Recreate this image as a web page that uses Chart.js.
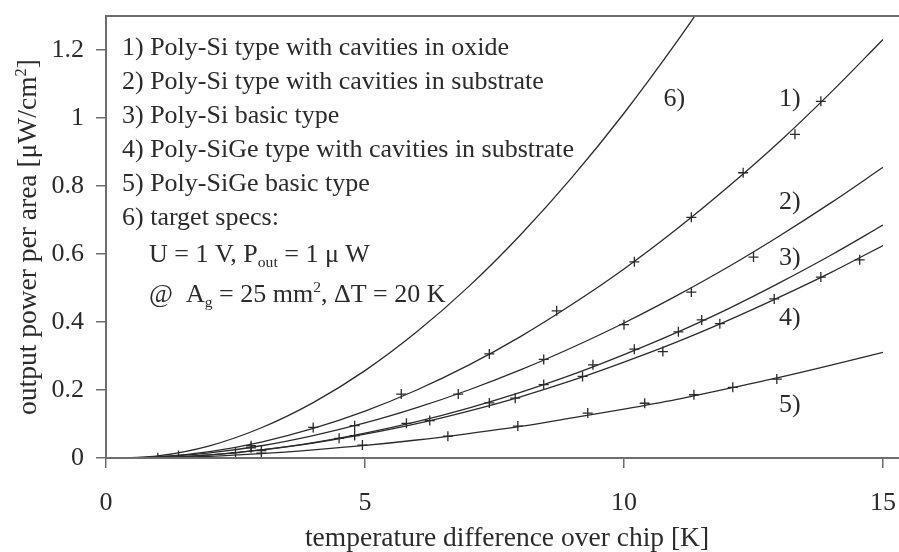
<!DOCTYPE html>
<html>
<head>
<meta charset="utf-8">
<script src="https://cdn.jsdelivr.net/npm/chart.js@4.4.0/dist/chart.umd.min.js"></script>
<style>
  html, body { margin: 0; padding: 0; background: #fff; }
  #wrap { width: 899px; height: 552px; position: relative; }
</style>
</head>
<body>
<div id="wrap"><canvas id="powerChart"></canvas></div>
<script>
const FONT = '"Liberation Serif", "DejaVu Serif", serif';
const INK = '#2b2b2b';
const AXIS = '#6e6e6e';

// fitted curves, sampled every kelvin
const curveX          = [0.4, 1, 2, 3, 4, 5, 6, 7, 8, 9, 10, 11, 12, 13, 14, 15];
const polySiOxide     = [0, 0.003, 0.019, 0.047, 0.087, 0.138, 0.200, 0.273, 0.357, 0.452, 0.556, 0.671, 0.796, 0.930, 1.076, 1.231];
const polySiSubstrate = [0, 0.003, 0.015, 0.036, 0.066, 0.103, 0.148, 0.200, 0.259, 0.325, 0.397, 0.476, 0.561, 0.653, 0.751, 0.855];
const polySiBasic     = [0, 0.001, 0.009, 0.024, 0.045, 0.073, 0.107, 0.147, 0.193, 0.245, 0.304, 0.368, 0.438, 0.515, 0.597, 0.685];
const polySiGeSubstr  = [0, 0.001, 0.009, 0.024, 0.044, 0.070, 0.101, 0.138, 0.180, 0.228, 0.282, 0.340, 0.404, 0.473, 0.546, 0.625];
const polySiGeBasic   = [0, 0.001, 0.005, 0.013, 0.024, 0.037, 0.053, 0.072, 0.093, 0.118, 0.144, 0.172, 0.204, 0.237, 0.273, 0.311];
const targetX         = [0.4, 1, 2, 3, 4, 5, 6, 7, 8, 9, 10, 11, 12];
const targetSpec      = [0, 0.006, 0.036, 0.089, 0.163, 0.257, 0.371, 0.504, 0.656, 0.826, 1.014, 1.220, 1.440];

// measured points (crosses)
const meas1X = [1.4, 2.8, 4.0, 5.7, 7.4, 8.7, 10.2, 11.3, 12.3, 13.3, 13.8];
const meas1Y = [0.007, 0.036, 0.090, 0.188, 0.306, 0.433, 0.577, 0.708, 0.839, 0.952, 1.049];
const meas2X = [2.8, 4.8, 6.8, 8.45, 10.0, 11.3, 12.5];
const meas2Y = [0.030, 0.095, 0.188, 0.290, 0.392, 0.488, 0.591];
const meas3X = [2.5, 4.5, 5.8, 7.4, 8.45, 9.4, 10.2, 11.05, 11.5];
const meas3Y = [0.016, 0.058, 0.102, 0.162, 0.216, 0.274, 0.320, 0.371, 0.406];
const meas4X = [3.0, 4.8, 6.25, 7.9, 9.2, 10.75, 11.85, 12.9, 13.8, 14.55];
const meas4Y = [0.022, 0.066, 0.110, 0.176, 0.240, 0.313, 0.395, 0.468, 0.532, 0.583];
const meas5X = [1.0, 3.0, 4.95, 6.6, 7.95, 9.3, 10.4, 11.35, 12.1, 12.95];
const meas5Y = [0.001, 0.014, 0.038, 0.064, 0.094, 0.132, 0.161, 0.186, 0.208, 0.232];

const xTicks = [0, 5, 10, 15];
const yTicks = [0, 0.2, 0.4, 0.6, 0.8, 1, 1.2];

// curve tags next to the right ends: [text, x, y]
const curveTags = [
  ['6)', 10.97, 1.055], ['1)', 13.2, 1.055], ['2)', 13.2, 0.751],
  ['3)', 13.2, 0.589], ['4)', 13.2, 0.412], ['5)', 13.2, 0.156]
];

const pts = (xs, ys) => xs.map((x, i) => ({ x: x, y: ys[i] }));

function curve(xs, ys) {
  return {
    type: 'line', data: pts(xs, ys), borderColor: INK, borderWidth: 1.3,
    pointRadius: 0, cubicInterpolationMode: 'monotone', fill: false
  };
}
function crosses(xs, ys) {
  return {
    type: 'scatter', data: pts(xs, ys), showLine: false, pointStyle: 'cross',
    pointRadius: 5, borderColor: INK, borderWidth: 1.3, backgroundColor: INK
  };
}

// draws text pieces with sub/superscripts along one baseline
function drawRuns(ctx, x, y, runs, size) {
  runs.forEach(r => {
    let s = size, dy = 0;
    if (r.sub) { s = size * 0.6; dy = 5; }
    if (r.sup) { s = size * 0.6; dy = -10; }
    ctx.font = s + 'px ' + FONT;
    ctx.fillText(r.t, x, y + dy);
    x += ctx.measureText(r.t).width;
  });
}
function runsWidth(ctx, runs, size) {
  let w = 0;
  runs.forEach(r => {
    ctx.font = ((r.sub || r.sup) ? size * 0.6 : size) + 'px ' + FONT;
    w += ctx.measureText(r.t).width;
  });
  return w;
}

const decorations = {
  id: 'decorations',
  afterDraw(chart) {
    const ctx = chart.ctx;
    const a = chart.chartArea;
    const sx = chart.scales.x, sy = chart.scales.y;
    ctx.save();

    // top frame line and bottom axis line run to the edge
    ctx.strokeStyle = AXIS;
    ctx.lineWidth = 2;
    ctx.beginPath();
    ctx.moveTo(a.left, a.top); ctx.lineTo(chart.width, a.top);
    ctx.moveTo(a.left, a.bottom); ctx.lineTo(chart.width, a.bottom);
    ctx.stroke();

    ctx.fillStyle = INK;
    ctx.textAlign = 'center';
    ctx.textBaseline = 'middle';
    ctx.font = '26px ' + FONT;
    curveTags.forEach(t => ctx.fillText(t[0], sx.getPixelForValue(t[1]), sy.getPixelForValue(t[2])));

    // legend block
    ctx.textAlign = 'left';
    ctx.textBaseline = 'alphabetic';
    const lx = a.left + 16, size = 26;
    const lines = [
      '1) Poly-Si type with cavities in oxide',
      '2) Poly-Si type with cavities in substrate',
      '3) Poly-Si basic type',
      '4) Poly-SiGe type with cavities in substrate',
      '5) Poly-SiGe basic type',
      '6) target specs:'
    ];
    const base = [55, 88.5, 122.5, 156.5, 190.5, 225];
    ctx.font = size + 'px ' + FONT;
    lines.forEach((l, i) => ctx.fillText(l, lx, base[i]));
    drawRuns(ctx, lx + 27, 261.5, [
      { t: 'U = 1 V, P' }, { t: 'out', sub: true }, { t: ' = 1 \u03bc W' }
    ], size);
    drawRuns(ctx, lx + 27, 301.5, [
      { t: '@  A' }, { t: 'g', sub: true }, { t: ' = 25 mm' }, { t: '2', sup: true }, { t: ', \u0394T = 20 K' }
    ], size);

    // axis titles
    ctx.font = '27.5px ' + FONT;
    ctx.textAlign = 'center';
    ctx.fillText('temperature difference over chip [K]', 507, 546);
    ctx.save();
    ctx.translate(36, (a.top + a.bottom) / 2);
    ctx.rotate(-Math.PI / 2);
    ctx.textAlign = 'left';
    const title = [{ t: 'output power per area [\u03bcW/cm' }, { t: '2', sup: true }, { t: ']' }];
    const w = runsWidth(ctx, title, 27.5);
    drawRuns(ctx, -w / 2, 0, title, 27.5);
    ctx.restore();

    ctx.restore();
  }
};

const ctx = document.getElementById('powerChart').getContext('2d');
const powerChart = new Chart(ctx, {
  data: {
    datasets: [
      curve(targetX, targetSpec),
      curve(curveX, polySiOxide),
      curve(curveX, polySiSubstrate),
      curve(curveX, polySiBasic),
      curve(curveX, polySiGeSubstr),
      curve(curveX, polySiGeBasic),
      crosses(meas1X, meas1Y),
      crosses(meas2X, meas2Y),
      crosses(meas3X, meas3Y),
      crosses(meas4X, meas4Y),
      crosses(meas5X, meas5Y)
    ]
  },
  options: {
    responsive: true,
    maintainAspectRatio: false,
    animation: false,
    layout: { padding: { top: 16, right: 16, left: 0, bottom: 0 } },
    plugins: { legend: { display: false }, tooltip: { enabled: false } },
    scales: {
      x: {
        type: 'linear', min: 0, max: 15,
        afterBuildTicks: axis => { axis.ticks = xTicks.map(v => ({ value: v })); },
        afterFit: axis => { axis.height = 94; axis.paddingLeft = 0; axis.paddingRight = 0; },
        grid: { drawOnChartArea: false, drawTicks: true, tickLength: 10, color: AXIS, lineWidth: 1.5 },
        border: { display: false },
        ticks: { color: INK, padding: 20, maxRotation: 0, font: { family: FONT, size: 26 },
                 callback: v => String(v) }
      },
      y: {
        type: 'linear', min: 0, max: 1.3,
        afterBuildTicks: axis => { axis.ticks = yTicks.map(v => ({ value: v })); },
        afterFit: axis => { axis.width = 106; axis.paddingTop = 0; axis.paddingBottom = 0; },
        grid: { drawOnChartArea: false, drawTicks: true, tickLength: 10, color: AXIS, lineWidth: 1.5 },
        border: { display: true, color: AXIS, width: 2 },
        ticks: { color: INK, padding: 12, font: { family: FONT, size: 26 },
                 callback: v => String(v) }
      }
    }
  },
  plugins: [decorations]
});
</script>
</body>
</html>
